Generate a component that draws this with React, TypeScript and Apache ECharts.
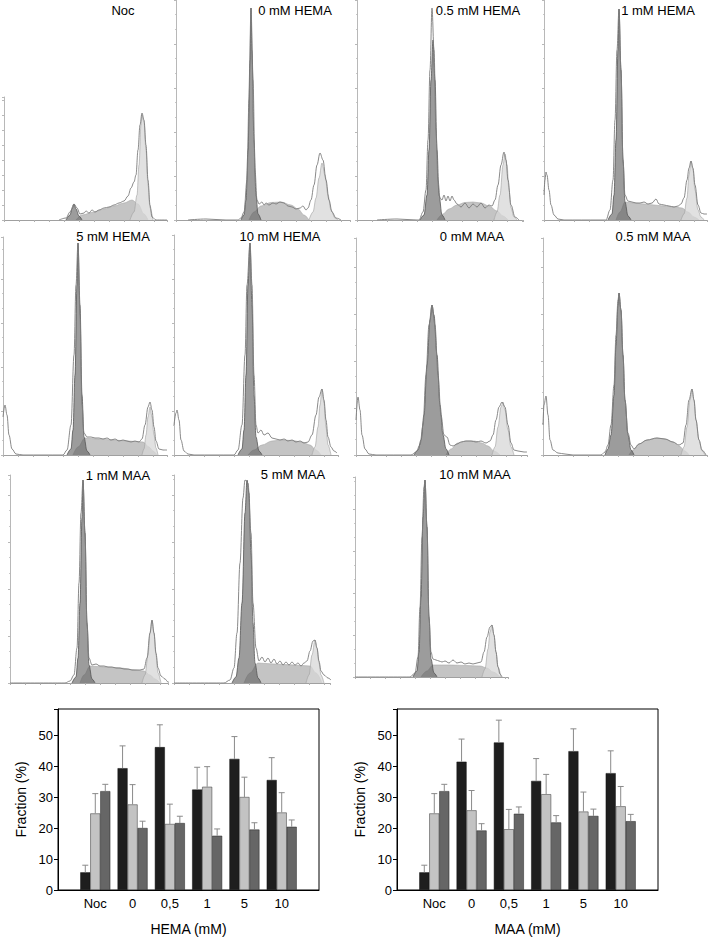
import React, { useEffect, useRef } from "react";
import * as echarts from "echarts";

// ---------- Histogram data (channel, count) ----------
const nocG1 = [[62,0],[66,5],[68,11],[70,16],[72,11],[75,4],[78,0]];
const nocS = [[72,0],[78,5],[90,8],[100,11],[110,14],[120,17],[128,20],[134,16],[140,6],[144,0]];
const nocG2 = [[126,0],[130,8],[133,25],[135,55],[137,95],[138,105],[140,98],[142,70],[144,35],[146,12],[149,0]];
const nocRaw = [[55,0],[62,2],[66,8],[70,16],[73,12],[76,6],[80,7],[82,9],[85,7],[88,10],[91,8],[95,10],[100,12],[105,13],[110,15],[115,17],[120,19],[124,24],[127,32],[130,38],[132,45],[134,70],[136,95],[138,107],[140,100],[142,75],[144,40],[146,15],[148,3],[152,0],[163,0]];

const h0G1 = [[65,0],[68,5],[70,20],[72,70],[74,160],[75,212],[76,170],[78,80],[80,25],[82,6],[85,0]];
const h0S = [[73,0],[78,8],[85,14],[95,17.5],[105,18],[115,15],[122,11],[128,5],[133,0]];
const h0G2 = [[133,0],[137,8],[140,22],[143,42],[146,57],[149,45],[152,25],[155,10],[159,2],[162,0]];
const h0Raw = [[12,0],[30,1],[50,0],[62,0],[65,2],[68,8],[71,40],[73,120],[75,212],[77,140],[79,50],[81,20],[83,16],[86,18],[88,15],[90,17],[93,15],[97,17],[100,16],[104,18],[108,17],[112,14],[116,13],[120,11],[124,12],[127,14],[130,10],[132,12],[135,20],[138,35],[141,55],[144,67],[147,60],[150,40],[153,20],[156,8],[160,2],[165,0]];

const h05G1 = [[63,0],[67,5],[70,25],[72,70],[74,140],[76,180],[78,140],[80,70],[82,25],[85,5],[88,0]];
const h05S = [[80,0],[86,6],[92,11],[100,15],[108,17.5],[116,18],[124,17],[132,14],[140,9],[146,4],[151,0]];
const h05G2 = [[137,0],[140,8],[143,25],[146,55],[148,66],[150,55],[152,30],[154,12],[157,3],[160,0]];
const h05Raw = [[20,0],[40,1],[60,0],[62,0],[66,8],[69,30],[71,80],[73,150],[75,212],[77,170],[79,90],[81,40],[83,22],[85,20],[87,25],[89,19],[91,24],[93,19],[95,24],[97,20],[100,16],[104,13],[108,17],[112,12],[116,16],[120,13],[124,17],[128,12],[132,15],[135,14],[138,20],[141,35],[144,55],[147,68],[149,60],[151,40],[154,15],[158,3],[162,0]];

const h1G1 = [[64,0],[68,6],[70,25],[72,80],[74,170],[75,211],[77,150],[79,60],[81,18],[84,4],[87,0]];
const h1S = [[72,0],[76,8],[81,18],[90,17],[100,16],[110,15],[120,14],[130,13],[138,12],[144,8],[150,3],[155,0]];
const h1G2 = [[137,0],[140,6],[143,22],[145,45],[147,59],[149,50],[151,30],[154,10],[157,3],[160,0]];
const h1Raw = [[0,25],[1,40],[2,48],[3,45],[5,30],[7,15],[10,5],[14,1],[20,0],[55,0],[62,0],[66,10],[69,40],[71,100],[73,170],[75,211],[77,150],[79,60],[81,25],[84,19],[88,18],[92,17],[96,17],[100,18],[104,16],[108,17],[112,21],[115,16],[120,15],[125,14],[130,13],[134,14],[137,16],[140,22],[143,40],[145,52],[147,59],[149,52],[151,35],[154,15],[157,7],[160,6],[163,6]];

const h5G1 = [[64,0],[68,6],[70,25],[72,80],[74,170],[75,212],[77,150],[79,60],[81,18],[84,4],[87,0]];
const h5S = [[70,0],[75,8],[82,17],[95,16],[110,15],[125,14],[140,13],[146,8],[150,4],[154,0]];
const h5G2 = [[139,0],[141,6],[143,20],[145,38],[147,48],[149,38],[151,20],[153,7],[155,0]];
const h5Raw = [[0,38],[2,50],[4,40],[6,20],[9,6],[13,1],[20,0],[60,0],[64,5],[68,30],[71,100],[73,170],[75,212],[77,140],[79,50],[81,22],[84,18],[88,18],[92,17],[96,17],[100,16],[104,17],[108,15],[112,16],[116,14],[120,15],[124,14],[128,13],[132,14],[136,13],[139,16],[142,30],[145,48],[147,53],[149,45],[151,28],[153,14],[156,6],[160,5],[164,5]];

const h10G1 = [[64,0],[68,6],[70,25],[72,80],[74,170],[76,212],[78,150],[80,60],[82,18],[85,4],[88,0]];
const h10S = [[74,0],[80,5],[88,10],[98,14],[108,15],[118,14.5],[128,13],[136,10],[142,5],[147,0]];
const h10G2 = [[138,0],[141,8],[144,28],[146,50],[148,66],[150,52],[152,28],[154,10],[157,0]];
const h10Raw = [[0,30],[2,42],[3,45],[5,35],[7,15],[10,4],[14,1],[20,0],[60,0],[64,5],[68,30],[71,100],[73,170],[76,212],[78,170],[80,80],[82,30],[84,22],[87,25],[90,20],[94,22],[98,17],[102,16],[106,15],[110,16],[114,14],[118,15],[122,13],[126,14],[130,12],[134,13],[138,20],[142,40],[145,58],[148,66],[150,55],[152,35],[154,18],[157,8],[160,4],[163,2]];

const m0G1 = [[58,0],[62,5],[65,15],[68,40],[71,90],[74,135],[76,150],[78,140],[81,100],[84,50],[87,20],[90,6],[93,0]];
const m0S = [[90,0],[95,6],[102,12],[110,14],[118,14],[126,12],[132,9],[138,4],[144,0]];
const m0G2 = [[136,0],[139,8],[142,28],[145,48],[147,53],[149,45],[152,25],[155,8],[158,0]];
const m0Raw = [[0,35],[2,58],[4,45],[6,20],[9,6],[13,1],[20,0],[55,0],[60,3],[64,10],[67,30],[70,80],[73,130],[76,150],[79,130],[82,80],[85,40],[88,20],[91,18],[94,10],[97,9],[101,11],[105,13],[110,14],[115,14],[120,13],[125,14],[130,12],[134,14],[137,20],[140,35],[143,48],[146,53],[149,48],[152,30],[155,12],[158,5],[162,4],[168,3],[171,3]];

const m05G1 = [[62,0],[65,6],[68,20],[71,60],[73,110],[75,150],[76,162],[78,145],[80,100],[82,55],[85,20],[88,5],[91,0]];
const m05S = [[86,0],[90,5],[96,11],[104,15],[114,17],[122,16],[130,13],[136,9],[142,4],[146,0]];
const m05G2 = [[138,0],[141,8],[144,28],[147,55],[149,66],[151,55],[153,35],[156,15],[159,4],[162,0]];
const m05Raw = [[0,30],[1,50],[3,59],[5,40],[7,15],[10,5],[15,2],[22,1],[30,0],[58,0],[62,3],[65,10],[68,30],[71,70],[73,120],[75,155],[76,162],[78,145],[80,100],[82,55],[85,22],[88,10],[91,6],[96,11],[104,15],[114,17],[122,16],[130,13],[136,10],[140,12],[143,30],[146,55],[149,66],[151,55],[153,35],[156,15],[159,5],[163,0]];

const a1G1 = [[62,0],[66,6],[68,25],[70,80],[72,165],[73,203],[75,150],[77,60],[79,18],[82,4],[85,0]];
const a1S = [[70,0],[74,8],[80,17],[95,16],[110,15],[125,13],[134,12],[140,8],[145,4],[150,0]];
const a1G2 = [[132,0],[135,8],[138,28],[140,50],[142,63],[144,50],[146,28],[148,10],[151,0]];
const a1Raw = [[0,0],[55,0],[60,2],[64,8],[67,35],[69,100],[71,170],[73,203],[75,150],[77,60],[79,25],[82,18],[86,19],[90,17],[94,17],[98,16],[102,16],[106,15],[110,15],[114,14],[118,14],[122,13],[126,13],[130,13],[134,14],[137,25],[140,50],[142,63],[144,50],[146,30],[148,15],[151,7],[155,4],[158,1],[160,0]];

const a5G1 = [[58,0],[62,6],[65,25],[68,80],[71,170],[73,203],[75,190],[77,130],[79,60],[81,20],[84,5],[87,0]];
const a5S = [[70,0],[76,10],[84,20],[100,19],[120,18],[136,17],[142,10],[148,0]];
const a5G2 = [[132,0],[135,8],[138,28],[141,43],[143,35],[145,20],[147,8],[150,0]];
const a5Raw = [[0,0],[50,0],[56,3],[60,15],[63,50],[66,120],[69,185],[71,203],[74,200],[77,150],[79,80],[82,35],[85,22],[88,26],[91,21],[94,25],[97,20],[100,24],[103,19],[106,22],[109,18],[112,21],[115,18],[118,21],[121,18],[124,20],[127,17],[130,20],[133,22],[136,32],[139,42],[141,43],[143,35],[145,22],[147,12],[150,8],[154,5],[157,3]];

const a10G1 = [[58,0],[62,6],[64,25],[66,80],[68,160],[70,197],[72,150],[74,60],[76,18],[79,4],[82,0]];
const a10S = [[66,0],[72,6],[78,12],[95,12],[110,11.5],[125,11],[132,9],[138,5],[145,0]];
const a10G2 = [[127,0],[130,8],[133,28],[135,45],[137,52],[139,42],[141,25],[143,10],[146,0]];
const a10Raw = [[0,0],[55,0],[60,4],[63,20],[65,70],[67,140],[69,190],[70,197],[72,150],[74,60],[76,25],[78,18],[81,17],[84,16],[87,15],[90,16],[94,14],[98,17],[102,14],[106,15],[110,13],[114,14],[118,13],[122,14],[126,15],[129,25],[132,40],[135,50],[137,52],[139,42],[141,25],[143,10],[145,3],[147,0]];

const panelTitles = ["Noc", "0 mM HEMA", "0.5 mM HEMA", "1 mM HEMA", "5 mM HEMA", "10 mM HEMA", "0 mM MAA", "0.5 mM MAA", "1 mM MAA", "5 mM MAA", "10 mM MAA"];

// ---------- Bar chart data ----------
const doseLabels = ["Noc", "0", "0,5", "1", "5", "10"];
const hemaG1 = [5.7, 39.3, 46.1, 32.4, 42.3, 35.5];
const hemaS = [24.7, 27.6, 21.3, 33.3, 30.0, 25.0];
const hemaG2M = [31.9, 20.0, 21.6, 17.5, 19.5, 20.4];
const hemaG1Err = [2.3, 7.2, 7.2, 7.2, 7.2, 7.2];
const hemaSErr = [6.4, 6.4, 6.4, 6.5, 6.4, 6.4];
const hemaG2MErr = [2.2, 2.2, 2.2, 2.2, 2.2, 2.2];

const maaG1 = [5.7, 41.4, 47.6, 35.2, 44.8, 37.7];
const maaS = [24.7, 25.7, 19.6, 30.9, 25.3, 27.0];
const maaG2M = [31.9, 19.2, 24.6, 21.8, 23.9, 22.2];
const maaG1Err = [2.3, 7.3, 7.2, 7.2, 7.2, 7.2];
const maaSErr = [6.4, 6.4, 6.4, 6.4, 6.3, 6.4];
const maaG2MErr = [2.2, 2.2, 2.2, 2.2, 2.2, 2.2];

// ---------- layout (positions only) ----------
const histLayout = [
  { left: 4, top: 97, width: 163, height: 123, tick: 15, tx: 123, ty: 10 },
  { left: 176, top: 0, width: 174, height: 220, tick: 44, tx: 295, ty: 10 },
  { left: 357, top: 0, width: 166, height: 220, tick: 44, tx: 478, ty: 10 },
  { left: 544, top: 0, width: 163, height: 220, tick: 44, tx: 658, ty: 10 },
  { left: 3, top: 237, width: 164, height: 218, tick: 44, tx: 113, ty: 236 },
  { left: 174, top: 235, width: 164, height: 220, tick: 44, tx: 280, ty: 236 },
  { left: 356, top: 238, width: 171, height: 217, tick: 47, tx: 472, ty: 236 },
  { left: 543, top: 238, width: 164, height: 217, tick: 47, tx: 653, ty: 236 },
  { left: 10, top: 475, width: 158, height: 208, tick: 47, tx: 118, ty: 475 },
  { left: 174, top: 475, width: 156, height: 208, tick: 47, tx: 293, ty: 474 },
  { left: 355, top: 477, width: 153, height: 200, tick: 42, tx: 475, ty: 474 },
];
const histData = [
  [nocG1, nocS, nocG2, nocRaw],
  [h0G1, h0S, h0G2, h0Raw],
  [h05G1, h05S, h05G2, h05Raw],
  [h1G1, h1S, h1G2, h1Raw],
  [h5G1, h5S, h5G2, h5Raw],
  [h10G1, h10S, h10G2, h10Raw],
  [m0G1, m0S, m0G2, m0Raw],
  [m05G1, m05S, m05G2, m05Raw],
  [a1G1, a1S, a1G2, a1Raw],
  [a5G1, a5S, a5G2, a5Raw],
  [a10G1, a10S, a10G2, a10Raw],
];

const FONT = "Liberation Sans, Arial, Helvetica, sans-serif";

function buildOption() {
  const grid: any[] = [];
  const xAxis: any[] = [];
  const yAxis: any[] = [];
  const series: any[] = [];
  const graphic: any[] = [];

  histLayout.forEach((L, i) => {
    grid.push({ left: L.left, top: L.top, width: L.width, height: L.height, containLabel: false });
    xAxis.push({
      type: "value", gridIndex: i, min: 0, max: L.width, interval: 15,
      axisLine: { show: true, lineStyle: { color: "#a0a0a0", width: 1 } },
      axisTick: { show: true, length: 2, lineStyle: { color: "#b0b0b0" } },
      axisLabel: { show: false }, splitLine: { show: false },
    });
    yAxis.push({
      type: "value", gridIndex: i, min: 0, max: L.height, interval: L.tick,
      axisLine: { show: true, lineStyle: { color: "#b8b8b8", width: 1 } },
      axisTick: { show: true, length: 2, lineStyle: { color: "#b8b8b8" } },
      minorTick: { show: L.tick > 20, splitNumber: 3, length: 1, lineStyle: { color: "#c8c8c8" } },
      axisLabel: { show: false }, splitLine: { show: false },
    });
    const [g1, s, g2, raw] = histData[i];
    const base = { type: "line", xAxisIndex: i, yAxisIndex: i, showSymbol: false, symbol: "none", smooth: 0.35, smoothMonotone: "x", silent: true };
    series.push({ ...base, data: s, z: 1, lineStyle: { color: "#a8a8a8", width: 0.6 }, areaStyle: { color: "#c4c4c4", opacity: 1 } });
    series.push({ ...base, data: g2, z: 2, lineStyle: { color: "#a0a0a0", width: 0.6 }, areaStyle: { color: "rgba(215,215,215,0.75)", opacity: 1 } });
    series.push({ ...base, data: g1, z: 3, lineStyle: { color: "#555555", width: 0.8 }, areaStyle: { color: "rgba(95,95,95,0.62)", opacity: 1 } });
    series.push({ ...base, data: raw, z: 4, lineStyle: { color: "#7c7c7c", width: 0.9 } });
    graphic.push({
      type: "text", x: L.tx, y: L.ty, z: 10,
      style: { text: panelTitles[i], fill: "#000", font: `13px ${FONT}`, align: "center", verticalAlign: "middle" },
    });
  });

  const bars = [
    { left: 58, name: "HEMA (mM)", g1: hemaG1, s: hemaS, g2: hemaG2M, e1: hemaG1Err, es: hemaSErr, e2: hemaG2MErr },
    { left: 397, name: "MAA (mM)", g1: maaG1, s: maaS, g2: maaG2M, e1: maaG1Err, es: maaSErr, e2: maaG2MErr },
  ];
  const cats = ["", ...doseLabels, ""];
  const pad = (a: number[]) => [null, ...a, null];
  bars.forEach((B, k) => {
    const gi = histLayout.length + k;
    grid.push({ left: B.left, top: 709, width: 261, height: 188, show: true, borderColor: "#000", borderWidth: 1, backgroundColor: "transparent", containLabel: false });
    xAxis.push({
      type: "category", gridIndex: gi, data: cats, boundaryGap: false,
      axisLine: { show: true, lineStyle: { color: "#000", width: 1 } },
      axisTick: { show: false },
      axisLabel: { interval: 0, color: "#000", fontSize: 13, fontFamily: FONT, margin: 7 },
      name: B.name, nameLocation: "middle", nameGap: 32,
      nameTextStyle: { color: "#000", fontSize: 14, fontFamily: FONT },
      splitLine: { show: false },
    });
    yAxis.push({
      type: "value", gridIndex: gi, min: 0, max: 58.4, interval: 10,
      axisLine: { show: true, lineStyle: { color: "#000", width: 1 } },
      axisTick: { show: true, length: 4, inside: false, lineStyle: { color: "#000" } },
      axisLabel: { color: "#000", fontSize: 13, fontFamily: FONT, margin: 5, formatter: (v: number) => (v % 10 === 0 ? String(v) : "") },
      name: "Fraction (%)", nameLocation: "middle", nameGap: 30,
      nameTextStyle: { color: "#000", fontSize: 14, fontFamily: FONT },
      splitLine: { show: false },
    });
    const barCommon = { type: "bar", xAxisIndex: gi, yAxisIndex: gi, barWidth: 10, barGap: "0%", silent: true };
    series.push({ ...barCommon, name: "G1", data: pad(B.g1), itemStyle: { color: "#1e1e1e", borderColor: "#111", borderWidth: 0.5 } });
    series.push({ ...barCommon, name: "S", data: pad(B.s), itemStyle: { color: "#c3c3c3", borderColor: "#333", borderWidth: 0.5 } });
    series.push({ ...barCommon, name: "G2M", data: pad(B.g2), itemStyle: { color: "#666666", borderColor: "#222", borderWidth: 0.5 } });
    const errSets = [
      { v: B.g1, e: B.e1, off: -10 },
      { v: B.s, e: B.es, off: 0 },
      { v: B.g2, e: B.e2, off: 10 },
    ];
    errSets.forEach((E) => {
      series.push({
        type: "custom", xAxisIndex: gi, yAxisIndex: gi, silent: true, z: 5,
        encode: { x: 0, y: 1 },
        data: E.v.map((v, j) => [j + 1, v, E.e[j]]),
        renderItem: (params: any, api: any) => {
          const x = api.value(0), v = api.value(1), e = api.value(2);
          const p0 = api.coord([x, v]);
          const p1 = api.coord([x, v + e]);
          const cx = p0[0] + E.off;
          return {
            type: "group",
            children: [
              { type: "line", shape: { x1: cx, y1: p0[1], x2: cx, y2: p1[1] }, style: { stroke: "#8a8a8a", lineWidth: 1 } },
              { type: "line", shape: { x1: cx - 3, y1: p1[1], x2: cx + 3, y2: p1[1] }, style: { stroke: "#8a8a8a", lineWidth: 1 } },
            ],
          };
        },
      });
    });
  });

  return {
    animation: false,
    backgroundColor: "#ffffff",
    textStyle: { fontFamily: FONT },
    grid, xAxis, yAxis, series, graphic,
  };
}

export default function App() {
  const ref = useRef<HTMLDivElement>(null);
  useEffect(() => {
    if (!ref.current) return;
    const chart = echarts.init(ref.current, null, { renderer: "svg" });
    chart.setOption(buildOption() as any);
    return () => chart.dispose();
  }, []);
  return <div ref={ref} style={{ position: "fixed", left: 0, top: 0, width: 709, height: 937, background: "#fff" }} />;
}
